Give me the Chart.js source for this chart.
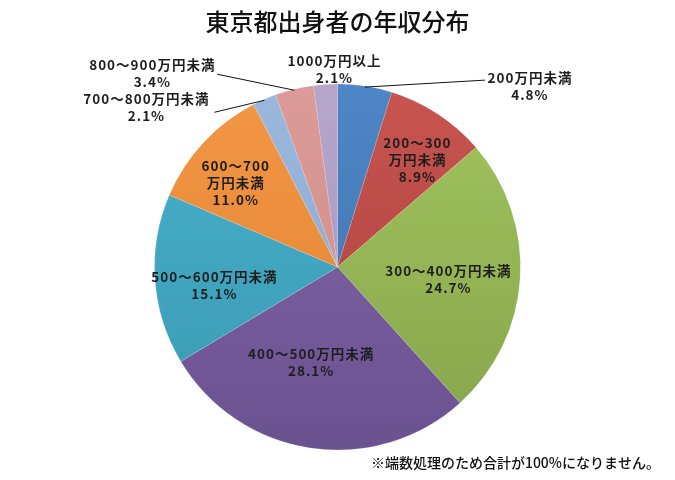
<!DOCTYPE html>
<html>
<head>
<meta charset="utf-8">
<script src="https://cdn.jsdelivr.net/npm/chart.js@4"></script>
<style>
  html, body { margin: 0; padding: 0; background: #fff; }
  #wrap { width: 675px; height: 480px; }
</style>
</head>
<body>
<div id="wrap"><canvas id="incomeChart" width="675" height="480"></canvas></div>
<script>
// data
const categories = ['200万円未満', '200～300万円未満', '300～400万円未満', '400～500万円未満',
    '500～600万円未満', '600～700万円未満', '700～800万円未満', '800～900万円未満', '1000万円以上'];
const shares = [4.8, 8.9, 24.7, 28.1, 15.1, 11.0, 2.1, 3.4, 2.1];

// how the label text is split onto lines
const labelLines = [
    ['200万円未満'], ['200～300', '万円未満'], ['300～400万円未満'], ['400～500万円未満'],
    ['500～600万円未満'], ['600～700', '万円未満'], ['700～800万円未満'], ['800～900万円未満'], ['1000万円以上']
];

// [top, bottom] shade of each slice
const sliceColors = [
    ['#4f86c6', '#3f6faa'], ['#c8544f', '#a9403d'], ['#a2c45e', '#86a44c'],
    ['#8668aa', '#6a5190'], ['#48b2cc', '#3b98b2'], ['#f39645', '#de8434'],
    ['#9ab8dc', '#88a6cc'], ['#dc9b98', '#cd8986'], ['#b6a6cb', '#a694bd']
];

// label placement relative to each slice (inside: radius factor + angle nudge, outside: offset from rim)
const labelLayout = [
    { out: true, dx: 165, dy: 0, lx: 120, ly: -6 },
    { r: 0.73, da: 3.5 },
    { r: 0.61, da: 3 },
    { r: 0.54, da: 7 },
    { r: 0.68, da: -4.5 },
    { r: 0.72, da: -3.5 },
    { out: true, dx: -118, dy: 8, lx: -50, ly: 13 },
    { out: true, dx: -142, dy: -16, lx: -77, ly: -15 },
    { out: true, dx: 9, dy: -15 }
];

function sliceFill(context) {
    const pair = sliceColors[context.dataIndex];
    const area = context.chart.chartArea;
    if (!area) return pair[0];
    const g = context.chart.ctx.createLinearGradient(0, area.top, 0, area.bottom);
    g.addColorStop(0, pair[0]);
    g.addColorStop(1, pair[1]);
    return g;
}

const sliceLabels = {
    id: 'sliceLabels',
    afterDatasetsDraw(chart) {
        const ctx = chart.ctx;
        const arcs = chart.getDatasetMeta(0).data;
        ctx.save();
        ctx.font = 'bold 13.5px "Noto Sans CJK JP", sans-serif';
        ctx.letterSpacing = '1px';
        ctx.fillStyle = '#1e1e1e';
        ctx.strokeStyle = '#111';
        ctx.lineWidth = 1;
        ctx.textAlign = 'center';
        ctx.textBaseline = 'middle';
        arcs.forEach((arc, i) => {
            const p = arc.getProps(['x', 'y', 'startAngle', 'endAngle', 'outerRadius'], true);
            const lay = labelLayout[i];
            const mid = (p.startAngle + p.endAngle) / 2;
            let cx, cy;
            if (lay.out) {
                const ex = p.x + Math.cos(mid) * p.outerRadius;
                const ey = p.y + Math.sin(mid) * p.outerRadius;
                if (lay.lx !== undefined) {
                    ctx.beginPath();
                    ctx.moveTo(ex, ey + 1);
                    ctx.lineTo(ex + lay.lx, ey + lay.ly);
                    ctx.stroke();
                }
                cx = ex + lay.dx;
                cy = ey + lay.dy;
            } else {
                const a = mid + lay.da * Math.PI / 180;
                cx = p.x + Math.cos(a) * p.outerRadius * lay.r;
                cy = p.y + Math.sin(a) * p.outerRadius * lay.r;
            }
            const lines = labelLines[i].concat([shares[i].toFixed(1) + '%']);
            const lh = 17;
            const top = cy - (lines.length - 1) * lh / 2;
            lines.forEach((t, k) => ctx.fillText(t, cx, top + k * lh));
        });
        ctx.restore();
    }
};

new Chart(document.getElementById('incomeChart'), {
    type: 'pie',
    data: {
        labels: categories,
        datasets: [{
            data: shares,
            backgroundColor: sliceFill,
            borderColor: 'rgba(255,255,255,0.25)',
            borderWidth: 0.5
        }]
    },
    options: {
        responsive: false,
        animation: false,
        devicePixelRatio: 1,
        layout: { padding: { top: 0, bottom: 0, left: 15, right: 15 } },
        plugins: {
            legend: { display: false },
            tooltip: { enabled: false },
            title: {
                display: true,
                text: '東京都出身者の年収分布',
                color: '#111',
                font: { family: '"Noto Sans CJK JP", sans-serif', size: 24, weight: '500' },
                padding: { top: 7, bottom: 48 }
            },
            subtitle: {
                display: true,
                position: 'bottom',
                align: 'end',
                text: '※端数処理のため合計が100%になりません。',
                color: '#111',
                font: { family: '"Noto Sans CJK JP", sans-serif', size: 14, weight: '500' },
                padding: { top: 4, bottom: 9 }
            }
        }
    },
    plugins: [sliceLabels]
});
</script>
</body>
</html>
